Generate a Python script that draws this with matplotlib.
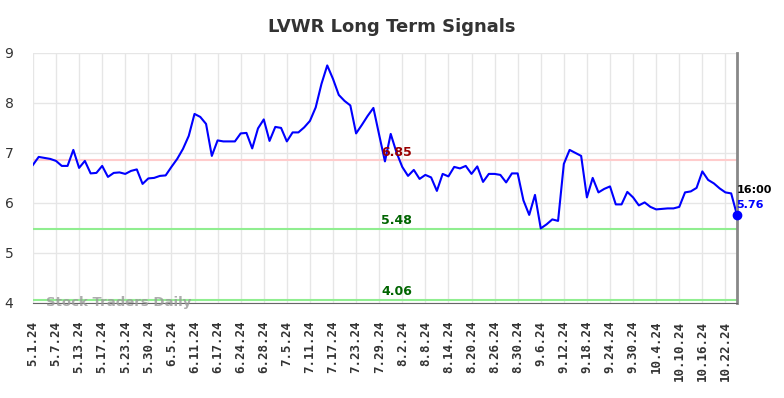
import matplotlib
matplotlib.use("Agg")
import matplotlib.pyplot as plt

# tick labels (every 4 trading days)
tick_labels = ["5.1.24", "5.7.24", "5.13.24", "5.17.24", "5.23.24", "5.30.24",
               "6.5.24", "6.11.24", "6.17.24", "6.24.24", "6.28.24", "7.5.24",
               "7.11.24", "7.17.24", "7.23.24", "7.29.24", "8.2.24", "8.8.24",
               "8.14.24", "8.20.24", "8.26.24", "8.30.24", "9.6.24", "9.12.24",
               "9.18.24", "9.24.24", "9.30.24", "10.4.24", "10.10.24", "10.16.24",
               "10.22.24"]

# daily closes
prices = [6.76, 6.92, 6.90, 6.88, 6.84, 6.74, 6.74, 7.06, 6.70, 6.84,
          6.59, 6.60, 6.74, 6.52, 6.60, 6.61, 6.58, 6.64, 6.67, 6.38,
          6.49, 6.50, 6.54, 6.55, 6.72, 6.88, 7.08, 7.34, 7.78, 7.72,
          7.58, 6.94, 7.25, 7.23, 7.23, 7.23, 7.39, 7.40, 7.09, 7.49,
          7.67, 7.24, 7.52, 7.50, 7.23, 7.41, 7.41, 7.51, 7.64, 7.91,
          8.38, 8.75, 8.48, 8.16, 8.04, 7.95, 7.39, 7.56, 7.74, 7.90,
          7.36, 6.83, 7.38, 7.01, 6.72, 6.54, 6.66, 6.48, 6.56, 6.51,
          6.24, 6.58, 6.53, 6.72, 6.69, 6.74, 6.58, 6.73, 6.42, 6.58,
          6.58, 6.56, 6.41, 6.59, 6.59, 6.05, 5.76, 6.16, 5.49, 5.57,
          5.67, 5.64, 6.78, 7.06, 7.00, 6.94, 6.11, 6.50, 6.21, 6.28,
          6.33, 5.97, 5.97, 6.22, 6.11, 5.95, 6.01, 5.92, 5.87, 5.88,
          5.89, 5.89, 5.92, 6.21, 6.23, 6.30, 6.63, 6.46, 6.39, 6.29,
          6.21, 6.19, 5.76]

resistance = 6.85
support_levels = [5.48, 4.06]
last_time = "16:00"

fig = plt.figure(figsize=(7.84, 3.98), dpi=100)
ax = fig.add_axes([0.042, 0.239, 0.898, 0.628])

x = list(range(len(prices)))
tick_pos = list(range(0, len(tick_labels) * 4, 4))

ax.set_xlim(0, len(prices) - 1)
ax.set_ylim(4, 9)
ax.set_xticks(tick_pos)
ax.set_xticklabels(tick_labels, rotation=90, fontsize=9, fontweight='bold',
                   color='#333333', family='DejaVu Sans Mono')
ax.set_yticks(range(4, 10))
ax.set_yticklabels([str(v) for v in range(4, 10)], fontsize=10, color='#333333')
ax.tick_params(length=0)
ax.tick_params(axis='x', pad=13)
ax.tick_params(axis='y', pad=14)
ax.grid(True, color='#e6e6e6', linewidth=1)
ax.set_axisbelow(True)

for s in ['top', 'left']:
    ax.spines[s].set_visible(False)
ax.spines['bottom'].set_color('#666666')
ax.spines['right'].set_color('#888888')
ax.spines['right'].set_linewidth(2)

# signal lines
mid = 63
ax.axhline(resistance, color='#ffcccc', linewidth=1.5)
ax.text(mid, resistance + 0.03, f"{resistance:.2f}", color='#990000',
        fontsize=9, fontweight='bold', ha='center', va='bottom')
for lvl in support_levels:
    ax.axhline(lvl, color='#90ee90', linewidth=1.5)
    ax.text(mid, lvl + 0.03, f"{lvl:.2f}", color='#006400',
            fontsize=9, fontweight='bold', ha='center', va='bottom')

ax.plot(x, prices, color='#0000ff', linewidth=1.5)
ax.plot(x[-1], prices[-1], 'o', color='#0000ff', markersize=6, clip_on=False,
        zorder=5)
ax.text(x[-1] - 0.1, prices[-1] + 0.5, last_time, fontsize=8,
        fontweight='bold', color='black', ha='left', va='center')
ax.text(x[-1] - 0.1, prices[-1] + 0.2, f"{prices[-1]:.2f}", fontsize=8,
        fontweight='bold', color='#0000ff', ha='left', va='center')

ax.text(2.2, 4.0, "Stock Traders Daily", fontsize=9.5, fontweight='bold',
        color='#999999', alpha=0.8, ha='left', va='center')

fig.suptitle("LVWR Long Term Signals", x=0.5, y=0.955, fontsize=13,
             fontweight='bold', color='#333333')

fig.savefig("out.png", dpi=100)
